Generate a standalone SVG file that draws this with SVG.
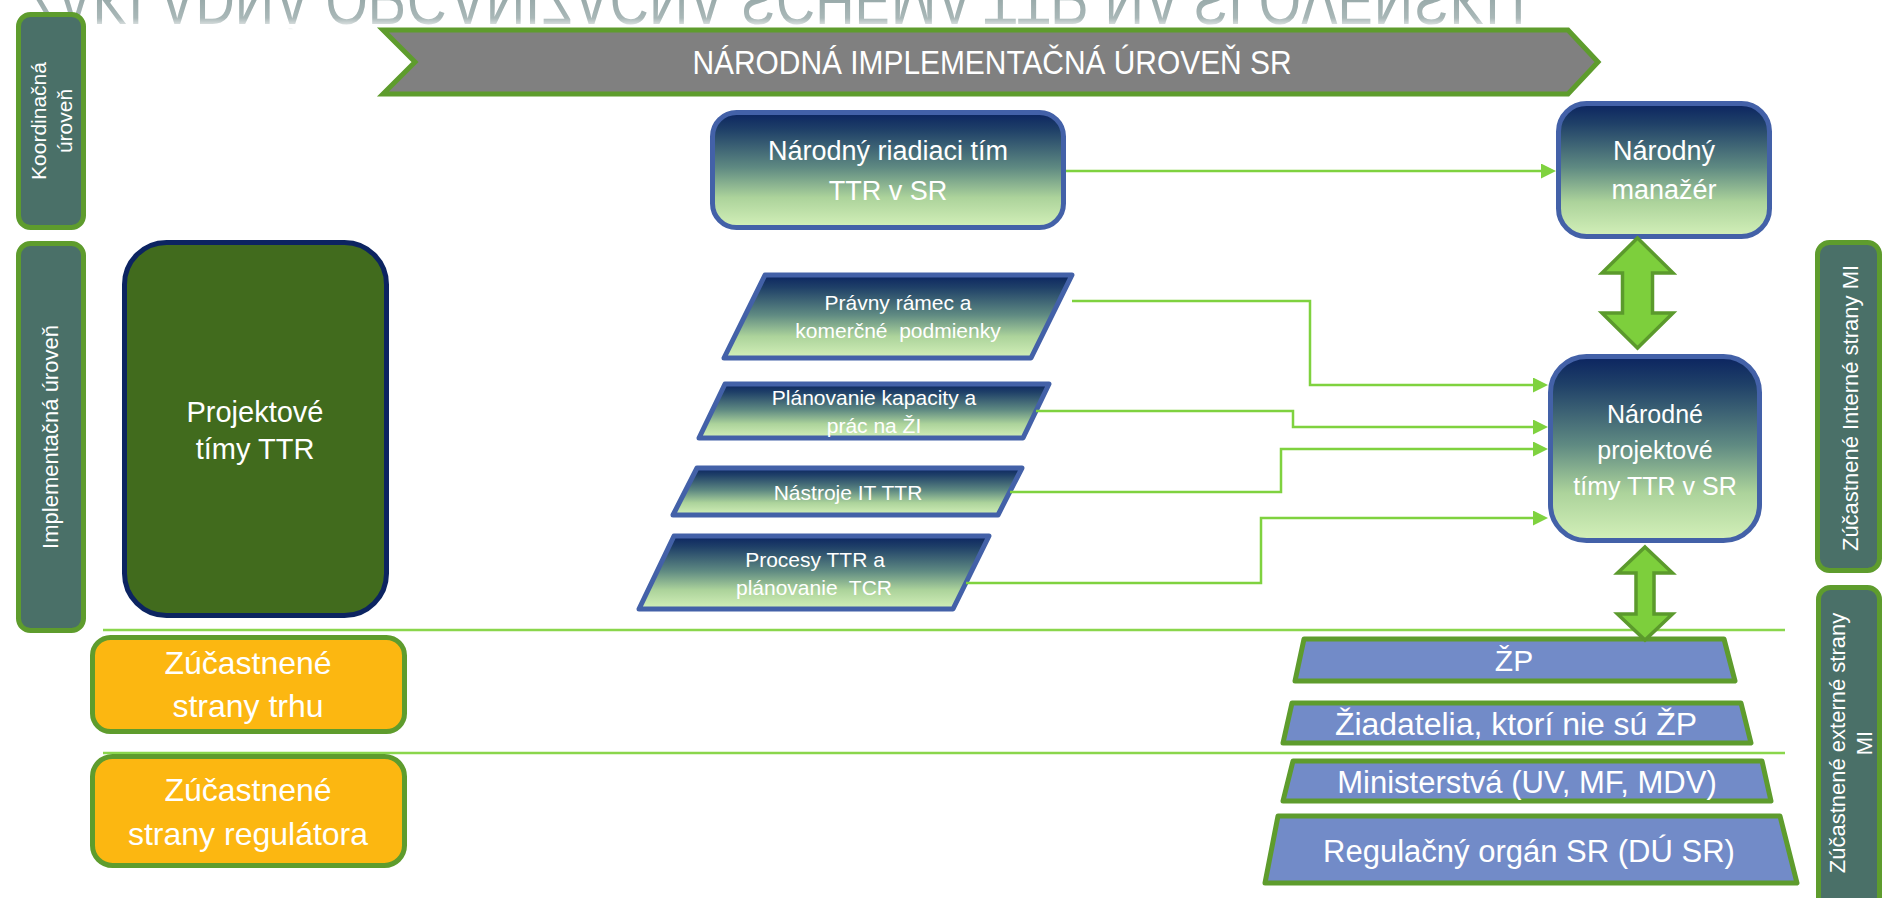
<svg xmlns="http://www.w3.org/2000/svg" width="1882" height="898" viewBox="0 0 1882 898">
<style>
.t{font-family:"Liberation Sans",Arial,sans-serif;fill:#ffffff;text-anchor:middle}
.grad{fill:url(#bg);stroke:#4361a8;stroke-width:5;stroke-linejoin:round}
.conn{fill:none;stroke:#7fd23f;stroke-width:2.5;marker-end:url(#arr)}
.dbl{fill:#7dcf3c;stroke:#5b9a2c;stroke-width:3.5}
.lvl{fill:#4a7068;stroke:#5e9c2d;stroke-width:5}
.trap{fill:#728bc8;stroke:#5e9c2d;stroke-width:5;stroke-linejoin:round}
.orange{fill:#fcb711;stroke:#5e9c2d;stroke-width:5}
.sep{stroke:#8ad64c;stroke-width:2.5}
</style>
<defs>
<linearGradient id="bg" x1="0" y1="0" x2="0" y2="1">
<stop offset="0" stop-color="#0b2460"/>
<stop offset="0.15" stop-color="#1f4068"/>
<stop offset="0.48" stop-color="#5f8a82"/>
<stop offset="0.74" stop-color="#acd39b"/>
<stop offset="1" stop-color="#d3f0b9"/>
</linearGradient>
<linearGradient id="fadeG" gradientUnits="userSpaceOnUse" x1="0" y1="0" x2="0" y2="30">
<stop offset="0" stop-color="#ffffff" stop-opacity="1"/>
<stop offset="0.6" stop-color="#ffffff" stop-opacity="0.85"/>
<stop offset="1" stop-color="#ffffff" stop-opacity="0"/>
</linearGradient>
<mask id="fade" maskUnits="userSpaceOnUse" x="0" y="0" width="1882" height="40">
<rect x="0" y="0" width="1882" height="40" fill="url(#fadeG)"/>
</mask>
<marker id="arr" viewBox="0 0 15 15" refX="7" refY="7.5" markerWidth="15" markerHeight="15" markerUnits="userSpaceOnUse" orient="auto">
<path d="M0,0 L15,7.5 L0,15 Z" fill="#7fd23f"/>
</marker>
</defs>
<rect x="0" y="0" width="1882" height="898" fill="#ffffff"/>

<g id="title-reflection" mask="url(#fade)">
<text transform="matrix(1 0 0 -1 0 -50)" x="23" y="-25" font-family="Liberation Sans, Arial, sans-serif" font-size="70" fill="#9aabab" textLength="1502" lengthAdjust="spacingAndGlyphs">ZÁKLADNÁ ORGANIZAČNÁ SCHÉMA TTR NA SLOVENSKU</text>
</g>

<g id="dividers">
<line class="sep" x1="103" y1="630" x2="1785" y2="630"/>
<line class="sep" x1="103" y1="753" x2="1785" y2="753"/>
</g>

<g id="banner">
<path d="M383,30 L1568,30 L1598,62 L1568,94 L383,94 L415,62 Z" fill="#808080" stroke="#5e9c2d" stroke-width="5"/>
<text class="t" x="992" y="74" font-size="33" textLength="599" lengthAdjust="spacingAndGlyphs">NÁRODNÁ IMPLEMENTAČNÁ ÚROVEŇ SR</text>
</g>

<g id="koordinacna-uroven">
<rect class="lvl" x="18.5" y="14.5" width="65" height="213" rx="12"/>
<text class="t" transform="translate(46,121) rotate(-90)" font-size="21">Koordinačná</text>
<text class="t" transform="translate(72,121) rotate(-90)" font-size="21">úroveň</text>
</g>

<g id="implementacna-uroven">
<rect class="lvl" x="18.5" y="243.5" width="65" height="387" rx="12"/>
<text class="t" transform="translate(58,437) rotate(-90)" font-size="22">Implementačná úroveň</text>
</g>

<g id="projektove-timy">
<rect x="124.5" y="242.5" width="262" height="373" rx="42" fill="#416b1d" stroke="#0c2461" stroke-width="5"/>
<text class="t" x="255" y="422" font-size="29">Projektové</text>
<text class="t" x="255" y="459" font-size="29">tímy TTR</text>
</g>

<g id="narodny-riadiaci-tim">
<rect class="grad" x="712.5" y="112.5" width="351" height="115" rx="24"/>
<text class="t" x="888" y="160" font-size="27">Národný riadiaci tím</text>
<text class="t" x="888" y="200" font-size="27">TTR v SR</text>
</g>

<g id="narodny-manazer">
<rect class="grad" x="1558.5" y="103.5" width="211" height="133" rx="28"/>
<text class="t" x="1664" y="160" font-size="27">Národný</text>
<text class="t" x="1664" y="199" font-size="27">manažér</text>
</g>

<g id="narodne-projektove-timy">
<rect class="grad" x="1550.5" y="356.5" width="209" height="184" rx="36"/>
<text class="t" x="1655" y="423" font-size="25">Národné</text>
<text class="t" x="1655" y="459" font-size="25">projektové</text>
<text class="t" x="1655" y="495" font-size="25">tímy TTR v SR</text>
</g>

<g id="pravny-ramec">
<polygon class="grad" points="765,275 1072,275 1031,358 724,358"/>
<text class="t" x="898" y="310" font-size="21" xml:space="preserve" style="white-space:pre">Právny rámec a</text>
<text class="t" x="898" y="338" font-size="21" xml:space="preserve" style="white-space:pre">komerčné  podmienky</text>
</g>

<g id="planovanie-kapacity">
<polygon class="grad" points="725,384 1049,384 1023,438 699,438"/>
<text class="t" x="874" y="405" font-size="21">Plánovanie kapacity a</text>
<text class="t" x="874" y="433" font-size="21">prác na ŽI</text>
</g>

<g id="nastroje-it">
<polygon class="grad" points="697,468 1022,468 998,515 673,515"/>
<text class="t" x="848" y="500" font-size="21">Nástroje IT TTR</text>
</g>

<g id="procesy-ttr">
<polygon class="grad" points="674,536 989,536 953,609 639,609"/>
<text class="t" x="815" y="567" font-size="21">Procesy TTR a</text>
<text class="t" x="814" y="595" font-size="21" xml:space="preserve" style="white-space:pre">plánovanie  TCR</text>
</g>

<g id="trh-strany">
<rect class="orange" x="92.5" y="637.5" width="312" height="94" rx="18"/>
<text class="t" x="248" y="674" font-size="32">Zúčastnené</text>
<text class="t" x="248" y="717" font-size="32">strany trhu</text>
</g>

<g id="regulator-strany">
<rect class="orange" x="92.5" y="756.5" width="312" height="109" rx="20"/>
<text class="t" x="248" y="801" font-size="32">Zúčastnené</text>
<text class="t" x="248" y="845" font-size="32">strany regulátora</text>
</g>

<g id="zp">
<polygon class="trap" points="1304,639 1724,639 1735,681 1295,681"/>
<text class="t" x="1514" y="671" font-size="30">ŽP</text>
</g>

<g id="ziadatelia">
<polygon class="trap" points="1292,703 1741,703 1751,743 1283,743"/>
<text class="t" x="1516" y="735" font-size="31" textLength="362" lengthAdjust="spacingAndGlyphs">Žiadatelia, ktorí nie sú ŽP</text>
</g>

<g id="ministerstva">
<polygon class="trap" points="1293,761 1762,761 1771,801 1283,801"/>
<text class="t" x="1527" y="793" font-size="31">Ministerstvá (UV, MF, MDV)</text>
</g>

<g id="regulacny-organ">
<polygon class="trap" points="1278,816 1780,816 1797,883 1265,883"/>
<text class="t" x="1529" y="862" font-size="31">Regulačný orgán SR (DÚ SR)</text>
</g>

<g id="interne-strany">
<rect class="lvl" x="1817.5" y="242.5" width="62" height="328" rx="12"/>
<text class="t" transform="translate(1858,408) rotate(-90)" font-size="22">Zúčastnené Interné strany MI</text>
</g>

<g id="externe-strany">
<rect class="lvl" x="1818.5" y="587.5" width="61" height="330" rx="12"/>
<text class="t" transform="translate(1845,743) rotate(-90)" font-size="22">Zúčastnené externé strany</text>
<text class="t" transform="translate(1872,743) rotate(-90)" font-size="22">MI</text>
</g>

<g id="connectors">
<polyline class="conn" points="1066,171 1548,171"/>
<polyline class="conn" points="1072,301 1310,301 1310,385 1540,385"/>
<polyline class="conn" points="1036,411 1293,411 1293,427 1540,427"/>
<polyline class="conn" points="1010,492 1281,492 1281,449 1540,449"/>
<polyline class="conn" points="966,583 1261,583 1261,518 1540,518"/>
<polygon class="dbl" points="1637.5,238 1673,273 1652.5,273 1652.5,313 1673,313 1637.5,348 1602,313 1622.5,313 1622.5,273 1602,273"/>
<polygon class="dbl" points="1645,547 1672.5,573 1654,573 1654,614 1672.5,614 1645,640 1617.5,614 1636,614 1636,573 1617.5,573"/>
</g>
</svg>
